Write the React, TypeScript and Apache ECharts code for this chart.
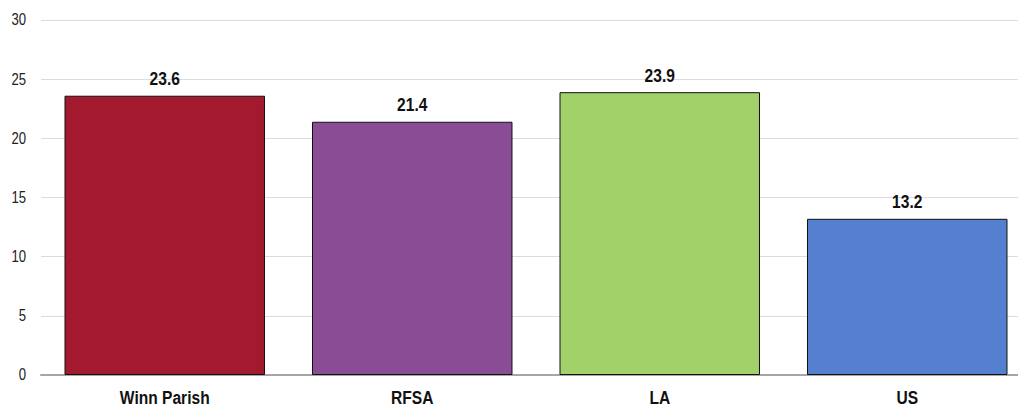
import React, { useEffect, useRef } from "react";
import * as echarts from "echarts";

const categories = ["Winn Parish", "RFSA", "LA", "US"];
const values = [23.6, 21.4, 23.9, 13.2];
const barColors = ["#A31A2F", "#8B4C96", "#A2D169", "#5580D0"];
const yTicks = [0, 5, 10, 15, 20, 25, 30];

const FONT = "'Liberation Sans', Arial, sans-serif";
const NARROW = 0.82;

export default function App() {
  const ref = useRef<HTMLDivElement>(null);
  useEffect(() => {
    if (!ref.current) return;
    const chart = echarts.init(ref.current, undefined, { renderer: "svg" });
    chart.setOption({
      animation: false,
      backgroundColor: "#ffffff",
      grid: { left: 41, right: 9, top: 20, bottom: 32, containLabel: false },
      xAxis: {
        type: "category",
        data: categories,
        axisTick: { show: false },
        axisLine: { lineStyle: { color: "#a6a6a6", width: 2 } },
        axisLabel: { show: false },
      },
      yAxis: {
        type: "value",
        min: yTicks[0],
        max: yTicks[yTicks.length - 1],
        interval: 5,
        axisLine: { show: false },
        axisTick: { show: false },
        splitLine: { lineStyle: { color: "#dcdcdc", width: 1 } },
        axisLabel: { show: false },
      },
      series: [
        {
          type: "bar",
          data: values.map((v, i) => ({
            value: v,
            itemStyle: { color: barColors[i] },
          })),
          barCategoryGap: "19%",
          itemStyle: { borderColor: "#111111", borderWidth: 1 },
        },
      ],
    });

    const graphics: any[] = [];
    // y-axis tick labels
    yTicks.forEach((t) => {
      const p = chart.convertToPixel({ xAxisIndex: 0, yAxisIndex: 0 }, [0, t]) as number[];
      graphics.push({
        type: "text",
        x: 26,
        y: p[1],
        scaleX: NARROW,
        style: {
          text: String(t),
          font: `normal 16px ${FONT}`,
          fill: "#222222",
          align: "right",
          verticalAlign: "middle",
        },
      });
    });
    // category labels and value labels
    categories.forEach((c, i) => {
      const base = chart.convertToPixel({ xAxisIndex: 0, yAxisIndex: 0 }, [i, 0]) as number[];
      const top = chart.convertToPixel({ xAxisIndex: 0, yAxisIndex: 0 }, [i, values[i]]) as number[];
      graphics.push({
        type: "text",
        x: base[0],
        y: base[1] + 22,
        scaleX: NARROW,
        style: {
          text: c,
          font: `bold 19px ${FONT}`,
          lineHeight: 16,
          fill: "#111111",
          align: "center",
          verticalAlign: "middle",
        },
      });
      graphics.push({
        type: "text",
        x: top[0],
        y: top[1] - 17,
        scaleX: NARROW,
        style: {
          text: values[i].toFixed(1),
          font: `bold 19px ${FONT}`,
          fill: "#111111",
          align: "center",
          verticalAlign: "middle",
        },
      });
    });
    chart.setOption({ graphic: graphics });

    return () => chart.dispose();
  }, []);
  return (
    <div
      style={{
        position: "absolute",
        left: 0,
        top: 0,
        width: 1018,
        height: 407,
        overflow: "hidden",
        background: "#fff",
      }}
    >
      <div ref={ref} style={{ width: 1040, height: 407 }} />
    </div>
  );
}
